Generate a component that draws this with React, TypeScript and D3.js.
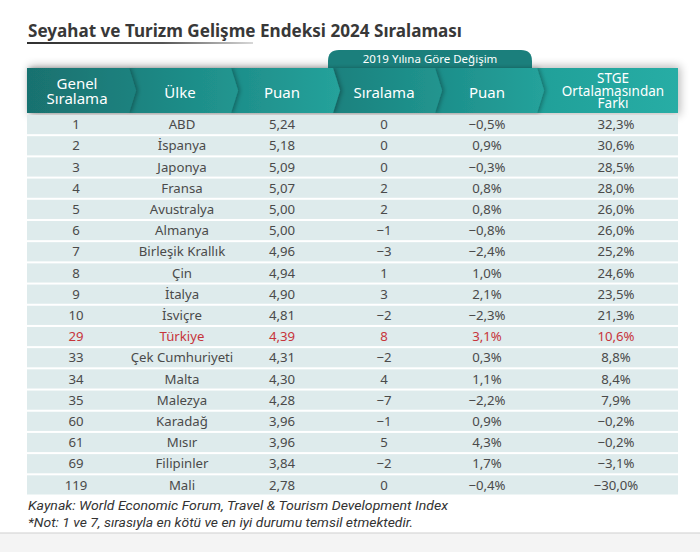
import React from "react";
import * as d3 from "d3";

const ranks = ["1","2","3","4","5","6","7","8","9","10","29","33","34","35","60","61","69","119"];
const countries = ["ABD","İspanya","Japonya","Fransa","Avustralya","Almanya","Birleşik Krallık","Çin","İtalya","İsviçre","Türkiye","Çek Cumhuriyeti","Malta","Malezya","Karadağ","Mısır","Filipinler","Mali"];
const scores = ["5,24","5,18","5,09","5,07","5,00","5,00","4,96","4,94","4,90","4,81","4,39","4,31","4,30","4,28","3,96","3,96","3,84","2,78"];
const rankChange = ["0","0","0","2","2","−1","−3","1","3","−2","8","−2","4","−7","−1","5","−2","0"];
const scoreChange = ["−0,5%","0,9%","−0,3%","0,8%","0,8%","−0,8%","−2,4%","1,0%","2,1%","−2,3%","3,1%","0,3%","1,1%","−2,2%","0,9%","4,3%","1,7%","−0,4%"];
const stgeDiff = ["32,3%","30,6%","28,5%","28,0%","26,0%","26,0%","25,2%","24,6%","23,5%","21,3%","10,6%","8,8%","8,4%","7,9%","−0,2%","−0,2%","−3,1%","−30,0%"];
const headers = [["Genel","Sıralama"],["Ülke"],["Puan"],["Sıralama"],["Puan"],["STGE","Ortalamasından","Farkı"]];
const groupLabel = "2019 Yılına Göre Değişim";
const highlight = "Türkiye";
const title = "Seyahat ve Turizm Gelişme Endeksi 2024 Sıralaması";
const notes = ["Kaynak: World Economic Forum, Travel & Tourism Development Index", "*Not: 1 ve 7, sırasıyla en kötü ve en iyi durumu temsil etmektedir."];

const W = 700, H = 552;
const colEdges = [27, 129, 231, 333, 435, 537, 678];
const textCenters = [76, 182, 282, 384, 487, 616];
const headCenters = [77, 180, 282, 384, 487, 613];
const segColors = [
  ["#19716f", "#1d827f"],
  ["#1b827f", "#219690"],
  ["#1e8e8a", "#25a29b"],
  ["#1a817e", "#21958f"],
  ["#1d8e8a", "#25a29b"],
  ["#20a099", "#27ada5"],
];
const FONT = "'Noto Sans', sans-serif";

export default function App() {
  const columns = [ranks, countries, scores, rankChange, scoreChange, stgeDiff];
  const y = d3.scaleBand<number>().domain(d3.range(countries.length)).range([115, 494.5]).paddingInner(0.095);
  const hTop = 68, hBot = 113, depth = 7;
  const hMid = (hTop + hBot) / 2;
  const segPath = (i: number) => {
    const x0 = colEdges[i], x1 = colEdges[i + 1];
    if (i === colEdges.length - 2) return `M${x0},${hTop}L${x1},${hTop}L${x1},${hBot}L${x0},${hBot}Z`;
    return `M${x0},${hTop}L${x1},${hTop}Q${x1 + depth * 0.55},${hTop + 12} ${x1 + depth},${hMid}Q${x1 + depth * 0.55},${hBot - 12} ${x1},${hBot}L${x0},${hBot}Z`;
  };
  const tabX0 = 328, tabX1 = 532, tabY0 = 50, r = 11;
  const tabPath = `M${tabX0},${hTop + 2}L${tabX0},${tabY0 + r}Q${tabX0},${tabY0} ${tabX0 + r},${tabY0}L${tabX1 - r},${tabY0}Q${tabX1},${tabY0} ${tabX1},${tabY0 + r}L${tabX1},${hTop + 2}Z`;
  const order = d3.range(headers.length).reverse();
  return (
    <svg width={W} height={H} style={{ position: "absolute", left: 0, top: 0, background: "#fff" }} fontFamily={FONT}>
      <defs>
        <linearGradient id="ul" x1="0" x2="1" y1="0" y2="0">
          <stop offset="0" stopColor="#2f2f2f" />
          <stop offset="0.6" stopColor="#555" />
          <stop offset="1" stopColor="#d8d8d8" />
        </linearGradient>
        {segColors.map((c, i) => (
          <linearGradient key={i} id={`seg${i}`} x1="0" x2="1" y1="0" y2="0">
            <stop offset="0" stopColor={c[0]} />
            <stop offset="1" stopColor={c[1]} />
          </linearGradient>
        ))}
        <filter id="segShadow" x="-10%" y="-10%" width="130%" height="130%">
          <feDropShadow dx="2" dy="0" stdDeviation="2" floodColor="#000" floodOpacity="0.3" />
        </filter>
        <filter id="blur" x="-20%" y="-50%" width="140%" height="200%">
          <feGaussianBlur stdDeviation="5" />
        </filter>
      </defs>

      <text x={28} y={37} fontSize={17} fontWeight={700} fill="#383838" textLength={434} lengthAdjust="spacingAndGlyphs">{title}</text>
      <rect x={27} y={42} width={226} height={2} fill="url(#ul)" />

      <rect x={29} y={hTop - 2} width={colEdges[6] - 27} height={hBot - hTop + 4} fill="#000" opacity={0.28} filter="url(#blur)" />
      <path d={tabPath} fill="#1b7f7c" />
      <text x={(tabX0 + tabX1) / 2} y={63} fontSize={11.5} fill="#fff" textAnchor="middle">{groupLabel}</text>

      {order.map((i) => (
        <path key={i} d={segPath(i)} fill={`url(#seg${i})`} filter={i < headers.length - 1 ? "url(#segShadow)" : undefined} />
      ))}
      {headers.map((lines, i) => {
        const n = lines.length;
        const lh = n === 3 ? 12.5 : 15.5;
        const fs = n === 3 ? 13.5 : 15;
        const start = hMid - ((n - 1) * lh) / 2 + fs * 0.35 + (n === 1 ? 2 : 0.5);
        return (
          <text key={i} fontSize={fs} fill="#fff" textAnchor="middle">
            {lines.map((l, j) => (
              <tspan key={j} x={headCenters[i]} y={start + j * lh}>{l}</tspan>
            ))}
          </text>
        );
      })}

      {countries.map((c, ri) => (
        <g key={ri}>
          <rect x={colEdges[0]} y={y(ri)} width={colEdges[6] - colEdges[0]} height={y.bandwidth()} fill="#deebec" />
          {columns.map((col, ci) => (
            <text key={ci} x={textCenters[ci]} y={(y(ri) as number) + y.bandwidth() / 2 + 4.6} fontSize={13.2} textAnchor="middle" fill={c === highlight ? "#c7343b" : "#4a4a4a"}>{col[ri]}</text>
          ))}
        </g>
      ))}

      <text x={28} y={510} fontSize={12.5} fontStyle="italic" fill="#333" fontFamily="Roboto, sans-serif" textLength={420} lengthAdjust="spacingAndGlyphs">{notes[0]}</text>
      <text x={28} y={527} fontSize={12.5} fontStyle="italic" fill="#333" fontFamily="Roboto, sans-serif" textLength={385} lengthAdjust="spacingAndGlyphs">{notes[1]}</text>

      <rect x={0} y={533} width={W} height={H - 533} fill="#f4f4f4" />
      <line x1={0} x2={W} y1={533} y2={533} stroke="#cfcfcf" strokeWidth={1.2} />
    </svg>
  );
}
